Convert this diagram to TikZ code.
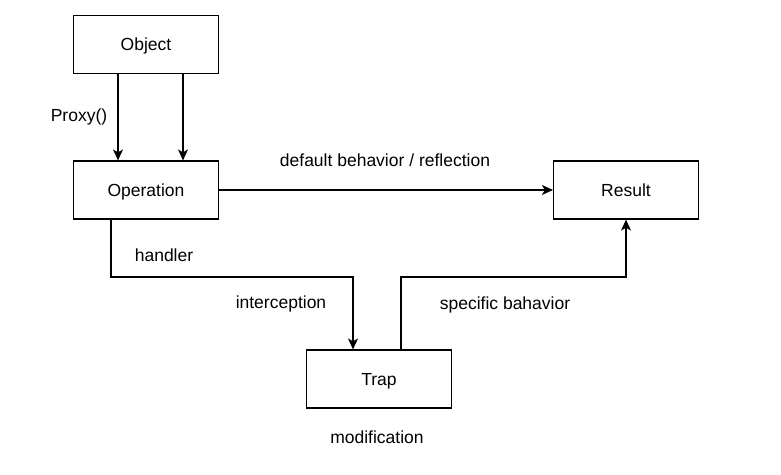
\documentclass[tikz,border=0pt]{standalone}
\usepackage{fontspec}
\setmainfont{Liberation Sans}
\usetikzlibrary{arrows.meta}
\begin{document}
\begin{tikzpicture}[x=1pt,y=-1pt,
  box/.style={draw,line width=1.2pt,minimum width=145pt,minimum height=58pt,inner sep=0pt,text height=12pt,text depth=0pt,font=\fontsize{17.5}{20}\selectfont},
  lbl/.style={font=\fontsize{17.5}{20}\selectfont,inner sep=0pt},
  conn/.style={draw,line width=1.2pt,-{Stealth[length=11pt,width=10pt,inset=3pt]}}]
\useasboundingbox (0,0) rectangle (781,474);
\node[box] (obj) at (146,44.5) {Object};
\node[box] (op) at (146,190) {Operation};
\node[box] (res) at (626,190) {Result};
\node[box] (trap) at (379,379) {Trap};
\coordinate (h1) at (111,277);
\coordinate (h2) at (353,277);
\coordinate (s1) at (401,277);
\coordinate (s2) at (626,277);
\draw[conn] (obj.south -| 118,0) -- (op.north -| 118,0);
\draw[conn] (obj.south -| 183,0) -- (op.north -| 183,0);
\draw[conn] (op.east) -- (res.west);
\draw[conn] (op.south -| h1) -- (h1) -- (h2) -- (trap.north -| h2);
\draw[conn] (trap.north -| s1) -- (s1) -- (s2) -- (res.south);
\node[lbl] (l1) at (79,117) {Proxy()};
\node[lbl] (l2) at (385,160) {default behavior / reflection};
\node[lbl] (l3) at (164,255) {handler};
\node[lbl] (l4) at (281,304) {interception};
\node[lbl] (l5) at (505,305) {specific bahavior};
\node[lbl] (l6) at (377,437) {modification};
\end{tikzpicture}
\end{document}
